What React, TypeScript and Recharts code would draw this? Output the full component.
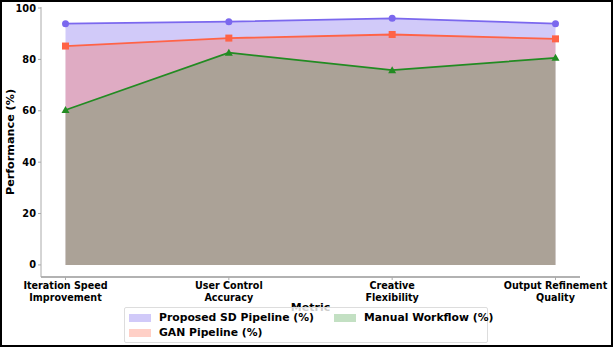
import { Area, AreaChart, XAxis, YAxis } from 'recharts';

const metrics = [
  'Iteration Speed\nImprovement',
  'User Control\nAccuracy',
  'Creative\nFlexibility',
  'Output Refinement\nQuality',
];
const proposedSd = [93.9, 94.7, 96.0, 93.9];
const ganPipeline = [85.2, 88.3, 89.7, 88.0];
const manualWorkflow = [60.3, 82.6, 75.8, 80.6];
const yTicks = [0, 20, 40, 60, 80, 100];

const FONT = '"DejaVu Sans", sans-serif';

const PURPLE = '#7b68ee';
const TOMATO = '#ff6347';
const GREEN = '#228b22';

const data = metrics.map((metric, i) => ({
  metric,
  proposed: proposedSd[i],
  gan: ganPipeline[i],
  manual: manualWorkflow[i],
}));

function CircleDot(props: any) {
  const { cx, cy } = props;
  if (cx == null || cy == null) return null;
  return <circle cx={cx} cy={cy} r={3.5} fill={PURPLE} />;
}

function SquareDot(props: any) {
  const { cx, cy } = props;
  if (cx == null || cy == null) return null;
  return <rect x={cx - 3.5} y={cy - 3.5} width={7} height={7} fill={TOMATO} />;
}

function TriangleDot(props: any) {
  const { cx, cy } = props;
  if (cx == null || cy == null) return null;
  return <polygon points={`${cx},${cy - 4} ${cx - 4},${cy + 3} ${cx + 4},${cy + 3}`} fill={GREEN} />;
}

function MetricTick(props: any) {
  const { x, y, payload } = props;
  const lines = String(payload.value).split('\n');
  return (
    <g transform={`translate(${x},${y})`}>
      <text textAnchor="middle" fontFamily={FONT} fontWeight="bold" fontSize={9.6} fill="#000">
        {lines.map((line, i) => (
          <tspan key={i} x={0} dy={i === 0 ? 7 : 11.5}>
            {line}
          </tspan>
        ))}
      </text>
    </g>
  );
}

const legendItems = [
  { label: 'Proposed SD Pipeline (%)', color: 'rgba(123,104,238,0.35)' },
  { label: 'GAN Pipeline (%)', color: 'rgba(255,99,71,0.3)' },
  { label: 'Manual Workflow (%)', color: 'rgba(34,139,34,0.27)' },
];

function LegendEntry({ label, color }: { label: string; color: string }) {
  return (
    <div style={{ display: 'flex', alignItems: 'center', height: 15 }}>
      <div style={{ width: 22, height: 8, background: color, marginRight: 8, flexShrink: 0 }} />
      <span style={{ fontFamily: FONT, fontWeight: 'bold', fontSize: 10.8, color: '#000', whiteSpace: 'nowrap' }}>
        {label}
      </span>
    </div>
  );
}

export default function App() {
  return (
    <div style={{ position: 'relative', width: 613, height: 347, background: '#fff', overflow: 'hidden' }}>
      <style>{'body{margin:0}'}</style>
      <AreaChart width={613} height={347} data={data} margin={{ top: 7, right: 33, bottom: 0, left: 0 }}>
        <XAxis
          dataKey="metric"
          type="category"
          padding={{ left: 24.5, right: 24.5 }}
          height={70}
          interval={0}
          tick={<MetricTick />}
          tickSize={3}
          tickLine={{ stroke: '#aaa' }}
          axisLine={{ stroke: '#999', strokeWidth: 1.5 }}
          label={{
            value: 'Metric',
            position: 'insideTop',
            offset: 26,
            fontFamily: FONT,
            fontWeight: 'bold',
            fontSize: 11,
            fill: '#000',
          }}
        />
        <XAxis
          xAxisId="top"
          dataKey="metric"
          orientation="top"
          height={0}
          tick={false}
          tickLine={false}
          axisLine={{ stroke: '#999' }}
        />
        <YAxis
          domain={[-4.7, 100.4]}
          ticks={yTicks}
          width={41}
          tickSize={3}
          tickLine={{ stroke: '#aaa' }}
          axisLine={{ stroke: '#aaa' }}
          tick={{ fontFamily: FONT, fontWeight: 'bold', fontSize: 9.8, fill: '#000' }}
          label={{
            value: 'Performance (%)',
            angle: -90,
            position: 'insideLeft',
            offset: 10,
            style: { textAnchor: 'middle' },
            fontFamily: FONT,
            fontWeight: 'bold',
            fontSize: 11.2,
            fill: '#000',
          }}
        />
        <YAxis
          yAxisId="right"
          orientation="right"
          width={0}
          tick={false}
          tickLine={false}
          axisLine={{ stroke: '#ddd' }}
        />
        <Area
          dataKey="proposed"
          type="linear"
          baseValue={0}
          stroke={PURPLE}
          strokeWidth={1.8}
          fill={PURPLE}
          fillOpacity={0.35}
          dot={<CircleDot />}
          activeDot={false}
          isAnimationActive={false}
        />
        <Area
          dataKey="gan"
          type="linear"
          baseValue={0}
          stroke={TOMATO}
          strokeWidth={1.8}
          fill={TOMATO}
          fillOpacity={0.3}
          dot={<SquareDot />}
          activeDot={false}
          isAnimationActive={false}
        />
        <Area
          dataKey="manual"
          type="linear"
          baseValue={0}
          stroke={GREEN}
          strokeWidth={1.8}
          fill={GREEN}
          fillOpacity={0.27}
          dot={<TriangleDot />}
          activeDot={false}
          isAnimationActive={false}
        />
      </AreaChart>
      <div
        style={{
          position: 'absolute',
          left: 124,
          top: 307,
          width: 364,
          height: 36,
          boxSizing: 'border-box',
          border: '1px solid #ddd',
          borderRadius: 2,
          background: 'rgba(255,255,255,0.8)',
          padding: '2px 0 0 4px',
          display: 'flex',
        }}
      >
        <div style={{ width: 205, flexShrink: 0 }}>
          <LegendEntry {...legendItems[0]} />
          <LegendEntry {...legendItems[1]} />
        </div>
        <div>
          <LegendEntry {...legendItems[2]} />
        </div>
      </div>
      <div
        style={{
          position: 'absolute',
          inset: 0,
          border: '2px solid #000',
          pointerEvents: 'none',
        }}
      />
    </div>
  );
}
